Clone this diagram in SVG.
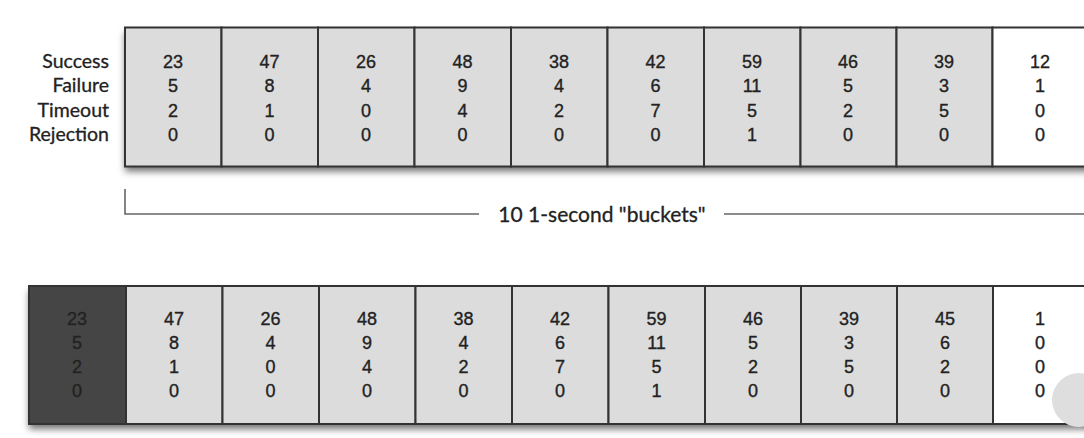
<svg xmlns="http://www.w3.org/2000/svg" width="1084" height="438" viewBox="0 0 1084 438">
<defs>
<filter id="sh" x="-5%" y="-20%" width="110%" height="150%">
<feDropShadow dx="0" dy="5" stdDeviation="3.5" flood-color="#000" flood-opacity="0.55"/>
</filter>
</defs>
<style>
.g{fill:#dcdcdc;stroke:#333;stroke-width:2}
.w{fill:#fff;stroke:#333;stroke-width:2}
.d{fill:#454545;stroke:#333;stroke-width:2}
.n{font-family:"Liberation Sans",Arial,sans-serif;font-size:18px;fill:#222;stroke:#222;stroke-width:0.35;text-anchor:middle}
.l{font-family:Lato,"Open Sans",sans-serif;font-size:19.5px;fill:#222;stroke:#222;stroke-width:0.3;text-anchor:end}
.b{font-family:Lato,"Open Sans",sans-serif;font-size:21px;fill:#222;stroke:#222;stroke-width:0.3;text-anchor:middle}
.c{fill:none;stroke:#666;stroke-width:1.6}
</style>
<rect width="1084" height="438" fill="#fff"/>
<g id="labels">
<text class="l" x="109" y="68">Success</text>
<text class="l" x="109" y="92">Failure</text>
<text class="l" x="109" y="117">Timeout</text>
<text class="l" x="109" y="141">Rejection</text>
</g>
<g id="row1">
<rect x="125" y="27.5" width="970" height="139" fill="#fff" filter="url(#sh)"/>
<g id="t1"><rect class="g" x="125" y="27.5" width="96.5" height="139"/><text class="n" x="173" y="68">23</text><text class="n" x="173" y="92">5</text><text class="n" x="173" y="117">2</text><text class="n" x="173" y="141">0</text></g>
<g id="t2"><rect class="g" x="221.5" y="27.5" width="96.5" height="139"/><text class="n" x="269.5" y="68">47</text><text class="n" x="269.5" y="92">8</text><text class="n" x="269.5" y="117">1</text><text class="n" x="269.5" y="141">0</text></g>
<g id="t3"><rect class="g" x="318" y="27.5" width="96.5" height="139"/><text class="n" x="366" y="68">26</text><text class="n" x="366" y="92">4</text><text class="n" x="366" y="117">0</text><text class="n" x="366" y="141">0</text></g>
<g id="t4"><rect class="g" x="414.5" y="27.5" width="96.5" height="139"/><text class="n" x="462.5" y="68">48</text><text class="n" x="462.5" y="92">9</text><text class="n" x="462.5" y="117">4</text><text class="n" x="462.5" y="141">0</text></g>
<g id="t5"><rect class="g" x="511" y="27.5" width="96.5" height="139"/><text class="n" x="559" y="68">38</text><text class="n" x="559" y="92">4</text><text class="n" x="559" y="117">2</text><text class="n" x="559" y="141">0</text></g>
<g id="t6"><rect class="g" x="607.5" y="27.5" width="96.5" height="139"/><text class="n" x="655.5" y="68">42</text><text class="n" x="655.5" y="92">6</text><text class="n" x="655.5" y="117">7</text><text class="n" x="655.5" y="141">0</text></g>
<g id="t7"><rect class="g" x="704" y="27.5" width="96.5" height="139"/><text class="n" x="752" y="68">59</text><text class="n" x="752" y="92">11</text><text class="n" x="752" y="117">5</text><text class="n" x="752" y="141">1</text></g>
<g id="t8"><rect class="g" x="800.5" y="27.5" width="96" height="139"/><text class="n" x="848" y="68">46</text><text class="n" x="848" y="92">5</text><text class="n" x="848" y="117">2</text><text class="n" x="848" y="141">0</text></g>
<g id="t9"><rect class="g" x="896.5" y="27.5" width="96" height="139"/><text class="n" x="944" y="68">39</text><text class="n" x="944" y="92">3</text><text class="n" x="944" y="117">5</text><text class="n" x="944" y="141">0</text></g>
<g id="t10"><rect class="w" x="992.5" y="27.5" width="110" height="139"/><text class="n" x="1040" y="68">12</text><text class="n" x="1040" y="92">1</text><text class="n" x="1040" y="117">0</text><text class="n" x="1040" y="141">0</text></g>
</g>
<g id="connectors">
<polyline class="c" points="125,189 125,214 479,214"/>
<line class="c" x1="724" y1="214" x2="1084" y2="214"/>
</g>
<text id="bracket-label" class="b" x="602" y="222">10 1-second "buckets"</text>
<g id="row2">
<rect x="29" y="286" width="1070" height="138" fill="#fff" filter="url(#sh)"/>
<g id="u0"><rect class="d" x="29" y="286" width="97" height="138"/><text class="n" x="77" y="325">23</text><text class="n" x="77" y="349">5</text><text class="n" x="77" y="373">2</text><text class="n" x="77" y="397">0</text></g>
<g id="u1"><rect class="g" x="126" y="286" width="96.5" height="138"/><text class="n" x="174" y="325">47</text><text class="n" x="174" y="349">8</text><text class="n" x="174" y="373">1</text><text class="n" x="174" y="397">0</text></g>
<g id="u2"><rect class="g" x="222.5" y="286" width="96.5" height="138"/><text class="n" x="270.5" y="325">26</text><text class="n" x="270.5" y="349">4</text><text class="n" x="270.5" y="373">0</text><text class="n" x="270.5" y="397">0</text></g>
<g id="u3"><rect class="g" x="319" y="286" width="96.5" height="138"/><text class="n" x="367" y="325">48</text><text class="n" x="367" y="349">9</text><text class="n" x="367" y="373">4</text><text class="n" x="367" y="397">0</text></g>
<g id="u4"><rect class="g" x="415.5" y="286" width="96.5" height="138"/><text class="n" x="463.5" y="325">38</text><text class="n" x="463.5" y="349">4</text><text class="n" x="463.5" y="373">2</text><text class="n" x="463.5" y="397">0</text></g>
<g id="u5"><rect class="g" x="512" y="286" width="96.5" height="138"/><text class="n" x="560" y="325">42</text><text class="n" x="560" y="349">6</text><text class="n" x="560" y="373">7</text><text class="n" x="560" y="397">0</text></g>
<g id="u6"><rect class="g" x="608.5" y="286" width="96.5" height="138"/><text class="n" x="656.5" y="325">59</text><text class="n" x="656.5" y="349">11</text><text class="n" x="656.5" y="373">5</text><text class="n" x="656.5" y="397">1</text></g>
<g id="u7"><rect class="g" x="705" y="286" width="96" height="138"/><text class="n" x="753" y="325">46</text><text class="n" x="753" y="349">5</text><text class="n" x="753" y="373">2</text><text class="n" x="753" y="397">0</text></g>
<g id="u8"><rect class="g" x="801" y="286" width="96" height="138"/><text class="n" x="849" y="325">39</text><text class="n" x="849" y="349">3</text><text class="n" x="849" y="373">5</text><text class="n" x="849" y="397">0</text></g>
<g id="u9"><rect class="g" x="897" y="286" width="96" height="138"/><text class="n" x="945" y="325">45</text><text class="n" x="945" y="349">6</text><text class="n" x="945" y="373">2</text><text class="n" x="945" y="397">0</text></g>
<g id="u10"><rect class="w" x="993" y="286" width="110" height="138"/><text class="n" x="1040" y="325">1</text><text class="n" x="1040" y="349">0</text><text class="n" x="1040" y="373">0</text><text class="n" x="1040" y="397">0</text></g>
</g>
<circle cx="1079" cy="400" r="27" fill="#dedede"/>
</svg>
